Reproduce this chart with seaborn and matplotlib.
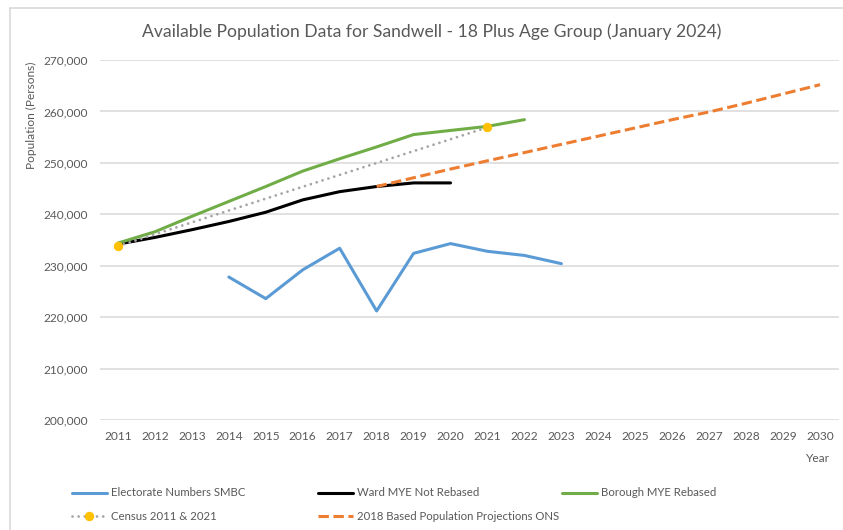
import matplotlib
matplotlib.use("Agg")
import matplotlib.pyplot as plt
import seaborn as sns
import pandas as pd
import numpy as np
from matplotlib.ticker import FuncFormatter, FixedLocator
from matplotlib.lines import Line2D

# ---------------- data ----------------
years_all = list(range(2011, 2031))

electorate_years = [2014, 2015, 2016, 2017, 2018, 2019, 2020, 2021, 2022, 2023]
electorate_vals = [227800, 223600, 229200, 233400, 221200, 232400, 234300, 232800, 232000, 230400]

ward_years = [2011, 2012, 2013, 2014, 2015, 2016, 2017, 2018, 2019, 2020]
ward_vals = [234200, 235500, 237000, 238600, 240400, 242800, 244400, 245400, 246100, 246100]

borough_years = [2011, 2012, 2013, 2014, 2015, 2016, 2017, 2018, 2019, 2020, 2021, 2022]
borough_vals = [234400, 236600, 239600, 242500, 245400, 248400, 250800, 253100, 255500, 256300, 257100, 258400]

census_years = [2011, 2021]
census_vals = [233800, 256900]

proj_years = [2018, 2019, 2020, 2021, 2022, 2023, 2024, 2025, 2026, 2027, 2028, 2029, 2030]
proj_vals = [245400, 247100, 248800, 250400, 252000, 253600, 255200, 256800, 258400, 259900, 261600, 263400, 265200]

y_ticks = [200000, 210000, 220000, 230000, 240000, 250000, 260000, 270000]

title = "Available Population Data for Sandwell - 18 Plus Age Group (January 2024)"
y_label = "Population (Persons)"
x_label = "Year"
labels = ["Electorate Numbers SMBC", "Ward MYE Not Rebased", "Borough MYE Rebased",
          "Census 2011 & 2021", "2018 Based Population Projections ONS"]

# ---------------- style ----------------
sns.set_theme(style="white")
plt.rcParams['font.family'] = ['Lato', 'DejaVu Sans']
TXT = "#595959"
GRID = "#D9D9D9"

fig = plt.figure(figsize=(8.43, 5.30), dpi=100)
W, H = 843, 530
ax = fig.add_axes([99.5 / W, (H - 420) / H, (838.5 - 99.5) / W, 360 / H])

def df(x, y):
    return pd.DataFrame({"year": x, "value": y})

lw = 2.2
sns.lineplot(data=df(electorate_years, electorate_vals), x="year", y="value", ax=ax,
             color="#5B9BD5", lw=lw, label=labels[0], solid_capstyle="round")
sns.lineplot(data=df(ward_years, ward_vals), x="year", y="value", ax=ax,
             color="#000000", lw=lw, label=labels[1], solid_capstyle="round")
sns.lineplot(data=df(borough_years, borough_vals), x="year", y="value", ax=ax,
             color="#70AD47", lw=lw, label=labels[2], solid_capstyle="round")
sns.lineplot(data=df(census_years, census_vals), x="year", y="value", ax=ax,
             color="#A5A5A5", lw=2.0, label=labels[3], marker="o", markersize=6,
             markerfacecolor="#FFC000", markeredgecolor="#FFC000",
             dashes=False, linestyle=(0, (0.01, 2.2)), dash_capstyle="round")
sns.lineplot(data=df(proj_years, proj_vals), x="year", y="value", ax=ax,
             color="#ED7D31", lw=lw, label=labels[4], linestyle=(0, (3.4, 1.5)))

leg = ax.get_legend()
if leg is not None:
    leg.remove()

ax.set_xlim(2010.5, 2030.5)
ax.set_ylim(200000, 270000)
ax.xaxis.set_major_locator(FixedLocator(years_all))
ax.yaxis.set_major_locator(FixedLocator(y_ticks))
ax.yaxis.set_major_formatter(FuncFormatter(lambda v, p: f"{int(v):,}"))
ax.set_xticklabels([str(y) for y in years_all])
ax.tick_params(axis="both", length=0, labelsize=8.6, colors=TXT)
ax.tick_params(axis="x", pad=8)
ax.tick_params(axis="y", pad=8)
ax.set_xlabel("")
ax.set_ylabel("")
for s in ax.spines.values():
    s.set_visible(False)
ax.grid(axis="y", color=GRID, lw=1.1)
ax.set_axisbelow(True)

for ln in ax.get_lines():
    if ln.get_label() == labels[3]:
        ln.set_zorder(5)

fig.text(432 / W, 1 - 32 / H, title, ha="center", va="center", fontsize=12.6, color=TXT)
fig.text(31 / W, 1 - 115 / H, y_label, ha="center", va="center", rotation=90, fontsize=8.6, color=TXT)
fig.text(818 / W, 1 - 459 / H, x_label, ha="center", va="center", fontsize=8.6, color=TXT)

# chart border (top & left visible)
fig.add_artist(Line2D([10 / W, 1.0], [1 - 8 / H, 1 - 8 / H], color=GRID, lw=1.2, transform=fig.transFigure))
fig.add_artist(Line2D([10 / W, 10 / W], [0, 1 - 8 / H], color=GRID, lw=1.2, transform=fig.transFigure))

# legend entries positioned individually
handles = {ln.get_label(): ln for ln in ax.get_lines()}
positions = [(72, 493), (318, 493), (562, 493), (72, 516), (318, 516)]
for lab, (px, py) in zip(labels, positions):
    h = handles[lab]
    fig.legend([h], [lab], loc="center left", bbox_to_anchor=(px / W, 1 - py / H),
               frameon=False, fontsize=8.2, handlelength=3.05, handletextpad=0.35,
               borderpad=0, borderaxespad=0, numpoints=1, labelcolor=TXT)

fig.savefig("out.png", dpi=100)
